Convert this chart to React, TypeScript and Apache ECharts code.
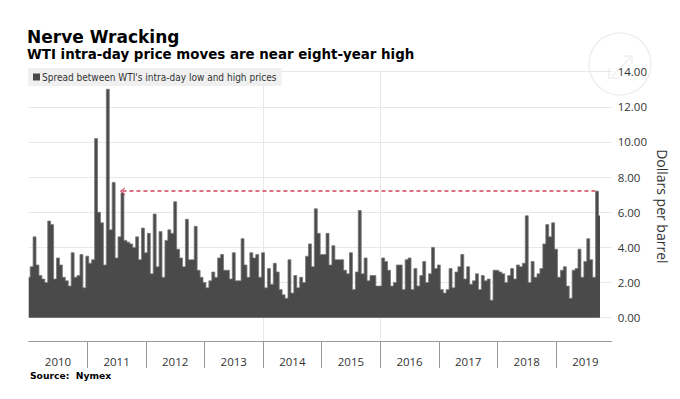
import { useEffect, useRef } from 'react';
import * as echarts from 'echarts';

// ---- data (20 samples per year) ----
const POINTS_PER_YEAR = 20;
const y2010 = [2.3, 2.9, 4.6, 3.0, 2.4, 2.2, 2.0, 5.5, 5.3, 2.2, 3.4, 3.0, 2.3, 2.1, 1.8, 3.7, 2.3, 2.4, 3.6, 1.7];
const y2011 = [3.5, 3.1, 3.3, 10.2, 6.0, 5.4, 3.0, 13.0, 5.0, 7.7, 3.4, 4.6, 7.1, 4.4, 4.3, 4.2, 4.0, 4.6, 3.3, 5.1];
const y2012 = [3.7, 4.8, 2.5, 5.9, 2.9, 4.9, 2.3, 4.4, 5.0, 4.8, 6.6, 3.9, 3.4, 2.9, 5.6, 3.3, 3.3, 5.2, 2.7, 2.3];
const y2013 = [2.0, 1.7, 2.1, 2.6, 2.3, 3.4, 3.6, 2.7, 2.7, 2.2, 3.7, 2.1, 2.1, 4.5, 3.0, 2.3, 3.7, 3.4, 3.6, 2.3];
const y2014 = [3.7, 1.7, 2.8, 1.9, 3.1, 2.6, 1.6, 1.3, 1.1, 3.3, 1.4, 2.4, 1.7, 2.3, 2.0, 3.5, 4.2, 2.9, 6.2, 4.8];
const y2015 = [3.6, 3.6, 4.8, 3.0, 4.1, 3.3, 3.3, 3.3, 2.7, 2.5, 3.7, 1.6, 2.6, 6.1, 2.5, 3.4, 2.1, 2.4, 2.4, 1.8];
const y2016 = [1.8, 3.4, 3.2, 2.7, 1.8, 2.0, 3.0, 3.0, 1.6, 3.3, 3.4, 1.6, 2.8, 1.8, 2.4, 3.2, 2.0, 2.5, 4.0, 2.8];
const y2017 = [3.0, 1.6, 1.4, 1.6, 2.8, 1.7, 2.6, 2.9, 3.6, 2.2, 2.9, 1.9, 2.1, 2.5, 1.6, 2.4, 2.1, 2.2, 1.0, 2.7];
const y2018 = [2.7, 2.6, 2.5, 2.0, 2.4, 2.8, 2.2, 3.0, 2.9, 3.1, 5.8, 2.0, 3.2, 2.3, 2.5, 2.8, 4.2, 5.3, 4.6, 5.4];
const y2019 = [3.9, 2.3, 2.7, 2.9, 1.8, 1.1, 2.7, 2.8, 3.9, 2.3, 3.2, 4.5, 3.3, 2.3, 7.2, 5.8];

const years: [number, number[]][] = [
  [2010, y2010], [2011, y2011], [2012, y2012], [2013, y2013], [2014, y2014],
  [2015, y2015], [2016, y2016], [2017, y2017], [2018, y2018], [2019, y2019],
];

const labelYears = [2010, 2011, 2012, 2013, 2014, 2015, 2016, 2017, 2018, 2019];
const separatorYears = [2011, 2012, 2013, 2014, 2015, 2016, 2017, 2018, 2019];
const gridYears = [2012, 2014, 2016, 2018];
const X_MIN = 2010;
const X_MAX = 2019.95;
const Y_MAX = 14;
const Y_STEP = 2;

// dashed reference line: from the 2011 high to the 2019 spike, at that level
const dashedLevel = 7.2;
const dashedFrom = 2011.6;
const dashedTo = 2019.7;

const seriesName = "Spread between WTI's intra-day low and high prices";
const titleText = 'Nerve Wracking';
const subtitleText = 'WTI intra-day price moves are near eight-year high';
const sourceText = 'Source:  Nymex';
const yName = 'Dollars per barrel';

// ---- layout ----
const plotLeft = 28.7;
const plotRight = 611.7;
const plotTop = 71.7;
const zeroY = 317.7;
const axisY = 341;
const plotW = plotRight - plotLeft;
const yearPx = plotW / (X_MAX - X_MIN);

const seriesData = years.flatMap(([yr, vals]) =>
  vals.map((v, i) => [yr + i / POINTS_PER_YEAR, v])
);

const labelFont = "'Open Sans', sans-serif";

const option: any = {
  animation: false,
  backgroundColor: '#ffffff',
  title: [
    {
      text: titleText, left: 27, top: 28, padding: 0,
      textStyle: { fontFamily: "'DejaVu Sans', sans-serif", fontWeight: 'bold', fontSize: 17, color: '#000' },
    },
    {
      text: subtitleText, left: 27, top: 48, padding: 0,
      textStyle: { fontFamily: "'DejaVu Sans', sans-serif", fontWeight: 'bold', fontSize: 13.4, color: '#000' },
    },
    {
      text: sourceText, left: 30, top: 371, padding: 0,
      textStyle: { fontFamily: "'DejaVu Sans', sans-serif", fontWeight: 'bold', fontSize: 9.2, color: '#000' },
    },
  ],
  legend: {
    left: 28, top: 68,
    padding: [4, 5, 4, 5],
    backgroundColor: '#f0f0f0',
    itemWidth: 7, itemHeight: 7, itemGap: 0,
    selectedMode: false,
    data: [{ name: seriesName, icon: 'rect', itemStyle: { color: '#4a4a4a', borderWidth: 0 } }],
    textStyle: {
      fontFamily: "'DejaVu Sans Condensed', 'Liberation Sans Narrow', sans-serif",
      fontSize: 10, color: '#333', padding: [0, 0, 0, -3],
    },
  },
  graphic: [
    { type: 'circle', z: -1, shape: { cx: 620, cy: 64, r: 31 }, style: { fill: 'none', stroke: '#efefef', lineWidth: 1.5 } },
    { type: 'line', z: -1, shape: { x1: 612, y1: 76, x2: 632, y2: 56 }, style: { stroke: '#efefef', lineWidth: 1.5 } },
    { type: 'polyline', z: -1, shape: { points: [[624, 56], [632, 56], [632, 64]] }, style: { fill: 'none', stroke: '#efefef', lineWidth: 1.5 } },
    { type: 'polyline', z: -1, shape: { points: [[609, 68], [609, 78], [619, 78]] }, style: { fill: 'none', stroke: '#efefef', lineWidth: 1.5 } },
  ],
  grid: [
    { left: plotLeft, top: plotTop, width: plotW, height: axisY - plotTop },
    { left: plotLeft, top: plotTop, width: plotW, height: zeroY - plotTop },
  ],
  xAxis: [
    {
      gridIndex: 0, type: 'value', min: X_MIN, max: X_MAX,
      axisLine: { show: true, lineStyle: { color: '#9a9a9a', width: 1 } },
      axisTick: { show: true, length: 27, customValues: separatorYears, lineStyle: { color: '#9a9a9a', width: 1 } },
      axisLabel: {
        show: true, customValues: labelYears, margin: 14, align: 'left',
        formatter: (v: number) => `{y|${v}}`,
        rich: { y: { width: yearPx, align: 'center', fontSize: 11.5, color: '#333', fontFamily: labelFont } },
      },
      splitLine: { show: false },
    },
    {
      gridIndex: 0, type: 'value', min: X_MIN, max: X_MAX,
      axisLine: { show: false },
      axisTick: { show: false, customValues: gridYears },
      axisLabel: { show: false, customValues: gridYears },
      splitLine: { show: true, showMinLine: false, showMaxLine: false, lineStyle: { color: '#e8e8e8', width: 1 } },
    },
    {
      gridIndex: 1, type: 'value', min: X_MIN, max: X_MAX, show: false,
      splitLine: { show: false },
    },
  ],
  yAxis: [
    {
      gridIndex: 0, type: 'value', position: 'right', min: 0, max: 1,
      axisLine: { show: false }, axisTick: { show: false }, axisLabel: { show: false }, splitLine: { show: false },
      name: yName, nameLocation: 'middle', nameRotate: -90, nameGap: 44,
      nameTextStyle: { fontFamily: labelFont, fontSize: 14, color: '#333' },
    },
    {
      gridIndex: 1, type: 'value', position: 'right', min: 0, max: Y_MAX, interval: Y_STEP,
      axisLine: { show: false }, axisTick: { show: false },
      splitLine: { show: true, lineStyle: { color: '#e8e8e8', width: 1 } },
      axisLabel: {
        margin: 6, fontSize: 11.5, color: '#333', fontFamily: labelFont,
        padding: [4, 0, 0, 0],
        formatter: (v: number) => v.toFixed(2),
      },
    },
  ],
  series: [
    {
      name: seriesName, type: 'line', xAxisIndex: 2, yAxisIndex: 1,
      data: seriesData,
      step: 'middle',
      symbol: 'none', showSymbol: false,
      color: '#4a4a4a',
      itemStyle: { color: '#4a4a4a' },
      lineStyle: { color: '#7a7a7a', width: 0.8 },
      areaStyle: { color: '#4a4a4a', opacity: 1 },
      silent: true,
      markLine: {
        silent: true,
        animation: false,
        label: { show: false },
        lineStyle: { color: '#d0415a', type: [4, 3], width: 1.5, opacity: 1 },
        symbolSize: [8, 5],
        data: [[
          { coord: [dashedFrom, dashedLevel], symbol: 'path://M0,10 L5,0 L10,10 L8.4,10 L5,3.2 L1.6,10 Z' },
          { coord: [dashedTo, dashedLevel], symbol: 'none' },
        ]],
      },
    },
  ],
};

export default function App() {
  const ref = useRef<HTMLDivElement>(null);
  useEffect(() => {
    if (!ref.current) return;
    const chart = echarts.init(ref.current, null, { renderer: 'svg' });
    chart.setOption(option);
    return () => chart.dispose();
  }, []);
  return (
    <div
      ref={ref}
      style={{ position: 'fixed', left: 0, top: 0, width: 680, height: 399, background: '#fff' }}
    />
  );
}
